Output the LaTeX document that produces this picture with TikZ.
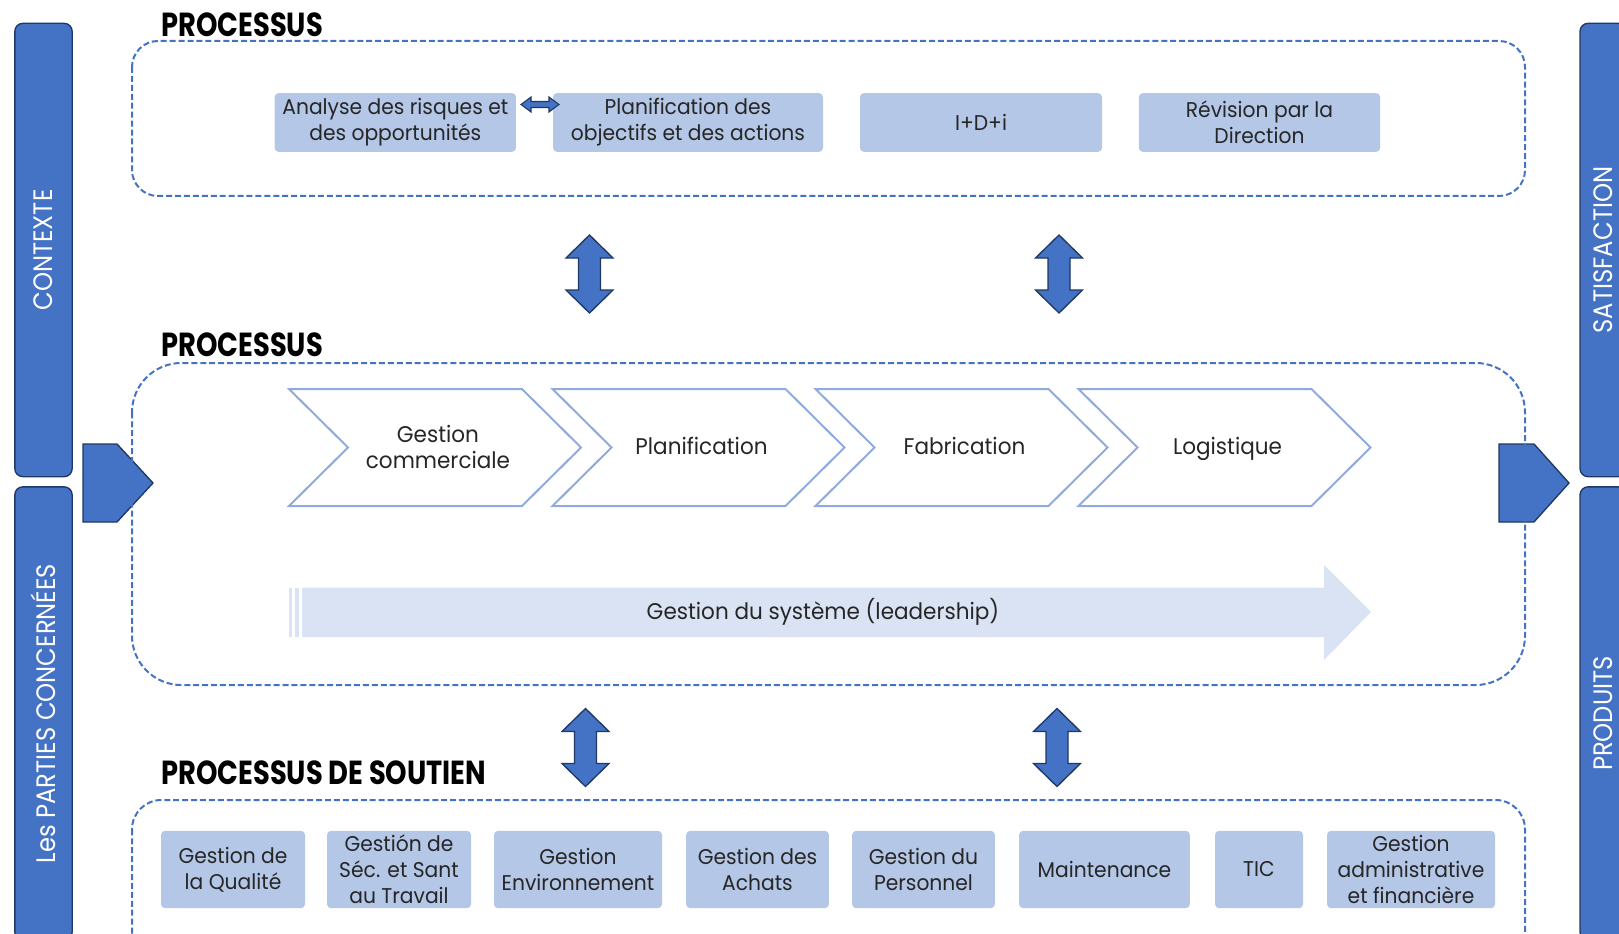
\documentclass[tikz,border=0pt]{standalone}
\usepackage{fontspec}
\setmainfont{Poppins}
\newfontfamily\gothic[FakeStretch=0.95]{Poppins}
\newfontfamily\sidefont[FakeStretch=0.91]{Poppins}
\newfontfamily\headfont[FakeStretch=0.82]{Poppins}

\definecolor{barblue}{RGB}{68,114,196}
\definecolor{barline}{RGB}{31,56,100}
\definecolor{taskblue}{RGB}{180,199,231}
\definecolor{chevline}{RGB}{143,170,220}
\definecolor{leaderfill}{RGB}{218,227,243}
\definecolor{textgray}{RGB}{38,38,38}

\tikzset{
  sidebar/.style={draw=barline, fill=barblue, line width=1pt, rounded corners=6pt,
    rotate=90, minimum width=340pt, minimum height=43pt, inner sep=0pt,
    text=white, font=\sidefont\fontsize{20}{24}\selectfont},
  frame/.style={draw=barblue, line width=1.5pt, dash pattern=on 4.5pt off 2.2pt},
  heading/.style={anchor=west, inner sep=0pt, text=black,
    font=\headfont\bfseries\fontsize{25}{30}\selectfont},
  task/.style={fill=taskblue, rounded corners=3pt, inner sep=0pt, align=center,
    text=textgray, font=\gothic\fontsize{16}{19.5}\selectfont},
  chevron/.style={draw=chevline, fill=white, line width=1.5pt},
  steptext/.style={align=center, inner sep=0pt, text=textgray,
    font=\gothic\fontsize{17}{19}\selectfont},
  bigarrow/.style={draw=barline, fill=barblue, line width=1pt, line join=miter},
  pentagon/.style={draw=barline, fill=barblue, line width=1pt}
}

\begin{document}
\begin{tikzpicture}[x=0.75pt,y=0.75pt,yscale=-1,xscale=1]
\useasboundingbox (0,0) rectangle (1619,934);

%Side bars
\node[sidebar] (contexte) at (43.5,250) {CONTEXTE};
\node[sidebar] (parties) at (43.5,713.5) {Les PARTIES CONCERNÉES};
\node[sidebar, minimum height=34.5pt] (satisfaction) at (1603,250) {SATISFACTION};
\node[sidebar, minimum height=34.5pt] (produits) at (1603,713.5) {PRODUITS};

%Entry and exit pentagons
\draw[pentagon] (83,444) -- (117,444) -- (153,483) -- (117,522) -- (83,522) -- cycle;
\draw[pentagon] (1499,444) -- (1534,444) -- (1569,483) -- (1534,522) -- (1499,522) -- cycle;

%Dashed frames
\draw[frame, rounded corners=19.5pt] (132,41) rectangle (1525,196);
\draw[frame, rounded corners=37pt] (132,363) rectangle (1525,685);
\draw[frame, rounded corners=22pt] (132,800) rectangle (1525,965);

%Headings
\node[heading] (head1) at (161,25) {PROCESSUS};
\node[heading] (head2) at (161,345) {PROCESSUS};
\node[heading] (head3) at (161,773) {PROCESSUS DE SOUTIEN};

%Top processes
\node[task, minimum width=181pt, minimum height=44pt] (analyse) at (395.3,122.5) {Analyse des risques et\\des opportunités};
\node[task, minimum width=202.5pt, minimum height=44pt] (objectifs) at (688,122.5) {Planification des\\objectifs et des actions};
\node[task, minimum width=181.5pt, minimum height=44pt] (idi) at (981,122.5) {I+D+i};
\node[task, minimum width=181pt, minimum height=44pt] (revision) at (1259.5,122.5) {Révision par la\\Direction};
%Small double arrow
\draw[bigarrow, line width=0.8pt] (521,104.5) -- (531,97) -- (531,101.5) -- (549,101.5) -- (549,97) -- (559,104.5) -- (549,112) -- (549,107.5) -- (531,107.5) -- (531,112) -- cycle;

%Vertical double arrows
\foreach \cx/\cy in {589.5/274, 1059/274, 585.5/747.5, 1057/747.5}
  \draw[bigarrow] (\cx,\cy-39) -- (\cx+23.5,\cy-16) -- (\cx+11,\cy-16) -- (\cx+11,\cy+16) -- (\cx+23.5,\cy+16) -- (\cx,\cy+39) -- (\cx-23.5,\cy+16) -- (\cx-11,\cy+16) -- (\cx-11,\cy-16) -- (\cx-23.5,\cy-16) -- cycle;

%Chevrons
\foreach \cx/\ty/\name/\txt in {435/468/chev1/{Gestion\\commerciale}, 698.5/454/chev2/Planification, 961.5/454/chev3/Fabrication, 1224.5/454/chev4/Logistique}{
  \draw[chevron] (\cx-146,389) -- (\cx+87,389) -- (\cx+146,447.5) -- (\cx+87,506) -- (\cx-146,506) -- (\cx-87,447.5) -- cycle;
  \node[steptext, anchor=base] (\name) at (\cx+3,\ty) {\txt};
}

%Leadership arrow
\fill[leaderfill] (289,587.5) rectangle (292,637);
\fill[leaderfill] (295,587.5) rectangle (299,637);
\fill[leaderfill] (302,587.5) -- (1324,587.5) -- (1324,565) -- (1371,612) -- (1324,660) -- (1324,637) -- (302,637) -- cycle;
\node[steptext] (leader) at (823,612) {Gestion du système (leadership)};

%Support processes
\node[task, minimum width=108pt, minimum height=58pt] (qualite) at (233,869.5) {Gestion de\\la Qualité};
\node[task, minimum width=108pt, minimum height=58pt] (sante) at (399,869.5) {Gestión de\\Séc. et Sant\\au Travail};
\node[task, minimum width=126pt, minimum height=58pt] (environ) at (578,869.5) {Gestion\\Environnement};
\node[task, minimum width=107pt, minimum height=58pt] (achats) at (757.5,869.5) {Gestion des\\Achats};
\node[task, minimum width=107pt, minimum height=58pt] (personnel) at (923.5,869.5) {Gestion du\\Personnel};
\node[task, minimum width=128pt, minimum height=58pt] (maint) at (1104.5,869.5) {Maintenance};
\node[task, minimum width=66pt, minimum height=58pt] (tic) at (1259,869.5) {TIC};
\node[task, minimum width=126pt, minimum height=58pt] (admin) at (1411,869.5) {Gestion\\administrative\\et financière};

\end{tikzpicture}
\end{document}
